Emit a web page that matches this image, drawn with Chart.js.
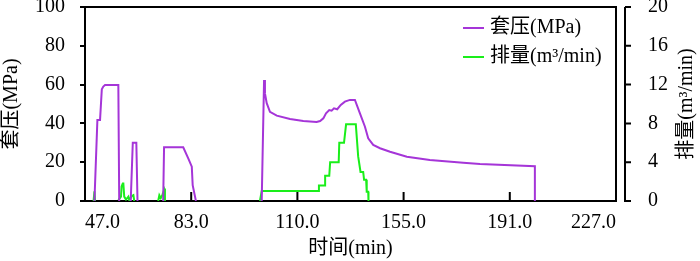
<!DOCTYPE html>
<html>
<head>
<meta charset="utf-8">
<script src="https://cdn.jsdelivr.net/npm/chart.js@4/dist/chart.umd.min.js"></script>
<style>
  html, body { margin: 0; padding: 0; background: #fff; }
  #wrap { width: 700px; height: 261px; }
</style>
</head>
<body>
<div id="wrap"><canvas id="chart"></canvas></div>
<script>
// Casing pressure vs time (null = break in the trace)
const pressureTime = [
  50.2, 51.2, 52.1, 52.7, 53.2, 53.8, 58.3, 58.6, null,
  62.5, 63.2, 64.4, 64.8, null,
  73.5, 73.8, 80.3, 82.0, 83.2, 83.5, 84.6, null,
  106.9, 107.7, 108.0, 108.6, 109.7, 112.0, 116.5, 121.0, 125.5, 126.7, 127.8, 128.7,
  129.8, 130.6, 131.4, 132.5, 133.7, 135.1, 136.8, 138.5, 140.2, 141.9, 143.0, 144.7,
  147.0, 150.4, 156.1, 163.9, 175.2, 180.9, 199.5, 199.5
];
const pressure = [
  0, 41.8, 41.8, 57.6, 59.0, 59.8, 59.8, 0, null,
  0, 30.0, 30.0, 0, null,
  0, 27.7, 27.7, 22.0, 17.7, 8.2, 0, null,
  0, 62.4, 55.5, 50.4, 46.0, 44.0, 42.3, 41.2, 40.7, 41.2, 42.6, 45.2,
  46.9, 46.6, 47.8, 47.3, 49.5, 51.2, 52.1, 52.1, 45.2, 38.3, 32.3, 28.9,
  27.2, 25.4, 22.8, 21.1, 19.7, 19.1, 17.9, 0
];

// Pump rate vs time
const flowTime = [
  49.9, 50.2, 50.4, null,
  58.3, 59.2, 59.4, 59.8, 60.0, 60.3, 60.9, 61.7, 62.0, 62.8, 63.4, 63.7, null,
  71.8, 72.2, 72.7, 73.2, 73.8, 74.1, 74.1, null,
  106.3, 106.9, 126.3, 126.3, 128.4, 128.4, 129.8, 130.1, 133.0, 133.2, 134.8, 135.5,
  138.8, 139.6, 140.4, 141.3, 141.6, 142.3, 142.5, 143.0, 143.1
];
const flow = [
  0, 1.0, 0, null,
  0.1, 0.45, 1.5, 1.8, 1.8, 0.45, 0.15, 0.45, 0.1, 0.5, 0.6, 0, null,
  0, 0.6, 0.3, 0.6, 1.1, 1.3, 0, null,
  0, 1.03, 1.03, 1.6, 1.6, 2.6, 2.6, 4.0, 4.0, 6.0, 6.0, 7.9,
  7.9, 4.6, 3.0, 3.0, 2.2, 2.2, 0.95, 0.95, 0
];

const xTickLabels = ['47.0', '83.0', '110.0', '155.0', '191.0', '227.0'];
const seriesLabels = ['套压(MPa)', '排量(m³/min)'];
const axisTitles = { x: '时间(min)', left: '套压(MPa)', right: '排量(m³/min)' };

const FONT = "'Liberation Serif', 'Noto Sans CJK SC', serif";
const PURPLE = '#a535d8';
const GREEN = '#1aee1a';

function toPoints(xs, ys) {
  return xs.map((x, i) => (x === null ? { x: NaN, y: null } : { x: x, y: ys[i] }));
}

// fixed box sizes so the plot area lands where the original has it
function fixWidth(w) {
  return s => { s.width = w; s.paddingTop = 0; s.paddingBottom = 0; };
}

// frame, inward x ticks, detached right axis, right title and legend
const decorPlugin = {
  id: 'decor',
  afterDraw(chart) {
    const { ctx, chartArea: a, scales } = chart;
    ctx.save();
    ctx.strokeStyle = '#000';
    ctx.lineWidth = 2;

    ctx.beginPath();
    ctx.moveTo(a.left, a.top);
    ctx.lineTo(a.right, a.top);
    ctx.lineTo(a.right, a.bottom + 1);
    ctx.stroke();

    ctx.beginPath();
    scales.x.ticks.forEach(t => {
      const px = scales.x.getPixelForValue(t.value);
      ctx.moveTo(px, a.bottom);
      ctx.lineTo(px, a.bottom - 9);
    });
    ctx.stroke();

    const rx = a.right + 9;
    ctx.beginPath();
    ctx.moveTo(rx, a.top);
    ctx.lineTo(rx, a.bottom + 1);
    scales.y1.ticks.forEach(t => {
      const py = scales.y1.getPixelForValue(t.value);
      ctx.moveTo(rx, py);
      ctx.lineTo(rx + 6, py);
    });
    ctx.stroke();

    ctx.fillStyle = '#000';
    ctx.font = '20px ' + FONT;
    ctx.textAlign = 'center';
    ctx.textBaseline = 'middle';
    ctx.save();
    ctx.translate(687, (a.top + a.bottom) / 2);
    ctx.rotate(-Math.PI / 2);
    ctx.fillText(axisTitles.right, 0, 0);
    ctx.restore();

    // legend
    ctx.textAlign = 'left';
    chart.data.datasets.forEach((ds, i) => {
      const y = 28 + i * 29;
      ctx.strokeStyle = ds.borderColor;
      ctx.beginPath();
      ctx.moveTo(463, y);
      ctx.lineTo(484, y);
      ctx.stroke();
      ctx.fillText(ds.label, 490, y);
    });
    ctx.restore();
  }
};

new Chart(document.getElementById('chart'), {
  type: 'line',
  data: {
    datasets: [{
      label: seriesLabels[0],
      data: toPoints(pressureTime, pressure),
      yAxisID: 'y',
      borderColor: PURPLE,
      borderWidth: 2,
      pointRadius: 0,
      tension: 0,
      spanGaps: false
    }, {
      label: seriesLabels[1],
      data: toPoints(flowTime, flow),
      yAxisID: 'y1',
      borderColor: GREEN,
      borderWidth: 2,
      pointRadius: 0,
      tension: 0,
      spanGaps: false
    }]
  },
  options: {
    responsive: true,
    maintainAspectRatio: false,
    animation: false,
    layout: { padding: { top: 7, left: 0, right: 0, bottom: 0 } },
    plugins: {
      legend: { display: false },
      tooltip: { enabled: false }
    },
    scales: {
      x: {
        type: 'linear',
        min: 47,
        max: 227,
        afterBuildTicks: s => { s.ticks = [47, 83, 119, 155, 191, 227].map(v => ({ value: v })); },
        afterFit: s => { s.height = 60; s.paddingLeft = 0; s.paddingRight = 0; },
        grid: { display: false },
        border: { display: true, color: '#000', width: 2 },
        ticks: {
          align: 'inner',
          maxRotation: 0,
          padding: 2,
          color: '#000',
          font: { family: FONT, size: 20 },
          callback: (v, i) => xTickLabels[i]
        },
        title: {
          display: true,
          text: axisTitles.x,
          color: '#000',
          font: { family: FONT, size: 20 },
          padding: { top: 0, bottom: 0 }
        }
      },
      y: {
        position: 'left',
        min: 0,
        max: 100,
        afterFit: fixWidth(85),
        grid: { display: true, drawOnChartArea: false, drawTicks: true, tickLength: 5, color: '#000', lineWidth: 2 },
        border: { display: true, color: '#000', width: 2 },
        ticks: {
          stepSize: 20,
          padding: 15,
          color: '#000',
          font: { family: FONT, size: 20 }
        },
        title: {
          display: true,
          text: axisTitles.left,
          color: '#000',
          font: { family: FONT, size: 20 },
          padding: 0
        }
      },
      y1: {
        position: 'right',
        min: 0,
        max: 20,
        afterFit: fixWidth(84),
        grid: { display: false },
        border: { display: false },
        ticks: {
          stepSize: 4,
          padding: 24,
          color: '#000',
          font: { family: FONT, size: 20 }
        }
      }
    }
  },
  plugins: [decorPlugin]
});
</script>
</body>
</html>
